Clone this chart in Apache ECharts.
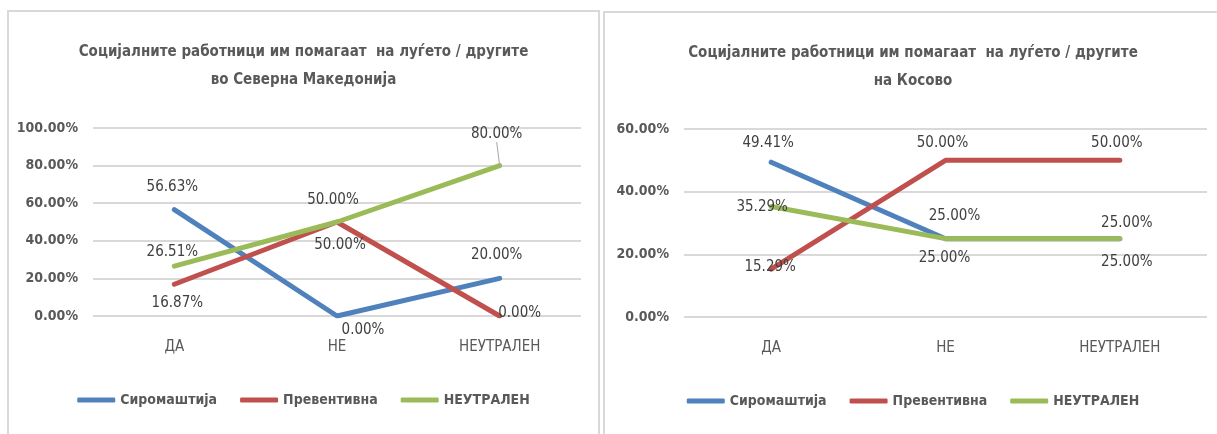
<!DOCTYPE html>
<html>
<head>
<meta charset="utf-8">
<script src="https://cdn.jsdelivr.net/npm/echarts@6/dist/echarts.min.js"></script>
<style>
	html, body { margin: 0; padding: 0; background: #fff; overflow: hidden; width: 1217px; height: 434px; }
	.panel { position: absolute; box-sizing: border-box; border: 2px solid #d9d9d9; background: #fff; }
	#mk { left: 7px; top: 10px; width: 593px; height: 440px; }
	#ks { left: 603px; top: 11px; width: 620px; height: 440px; }
</style>
</head>
<body>
<div class="panel" id="mk"></div>
<div class="panel" id="ks"></div>
<script>
// податоци
const categories = ['ДА', 'НЕ', 'НЕУТРАЛЕН'];
const seriesNames = ['Сиромаштија', 'Превентивна', 'НЕУТРАЛЕН'];

// Северна Македонија
const mkPoverty = [56.63, 0, 20];
const mkPreventive = [16.87, 50, 0];
const mkNeutral = [26.51, 50, 80];
const mkTicks = [0, 20, 40, 60, 80, 100];

// Косово
const ksPoverty = [49.41, 25, 25];
const ksPreventive = [15.29, 50, 50];
const ksNeutral = [35.29, 25, 25];
const ksTicks = [0, 20, 40, 60];

const colors = ['#4f81bd', '#c0504d', '#9bbb59'];
const font = "'Liberation Sans Narrow', 'DejaVu Sans Condensed', sans-serif";

// помествање на етикетите (центар на текстот во однос на точката)
const mkLabelShift = [
	[[-2, -22], [26, 14], [-3, -23]],
	[[3, 19], [3, 23], [20, -3]],
	[[-2, -14], [-4, -22], [-3, -31]]
];
const ksLabelShift = [
	[[-3, -19], [9, -23], [7, -16]],
	[[-1, -2], [-3, -17], [-3, -17]],
	[[-9, 1], [-1, 19], [7, 23]]
];

function makeChart(el, title, valuesList, ticks, shifts, grid, leader) {
	let myChart = echarts.init(document.getElementById(el));
	let series = valuesList.map(function (values, s) {
		return {
			name: seriesNames[s],
			type: 'line',
			symbol: 'circle',
			symbolSize: 0,
			showSymbol: true,
			lineStyle: { width: 5, color: colors[s], cap: 'round', join: 'round' },
			itemStyle: { color: colors[s] },
			emphasis: { disabled: true },
			data: values.map(function (v, i) {
				let item = { value: v, label: { offset: shifts[s][i] } };
				// тенка водилка до етикетата
				if (leader && leader[0] === s && leader[1] === i) {
					item.labelLine = { show: true, lineStyle: { color: '#a6a6a6', width: 1 } };
				}
				return item;
			}),
			label: {
				show: true,
				position: 'inside',
				color: '#404040',
				fontFamily: font,
				fontSize: 15,
				formatter: function (p) { return p.value.toFixed(2) + '%'; }
			}
		};
	});
	let option = {
		animation: false,
		color: colors,
		title: {
			text: title,
			left: 'center',
			top: 26,
			padding: 0,
			textStyle: {
				fontFamily: font,
				fontSize: 15,
				fontWeight: 'bold',
				color: '#595959',
				lineHeight: 28
			}
		},
		legend: {
			top: 381,
			left: 'center',
			padding: 0,
			icon: 'roundRect',
			itemWidth: 38,
			itemHeight: 5,
			itemGap: 23,
			textStyle: { fontFamily: font, fontSize: 14, fontWeight: 'bold', color: '#595959' },
			data: seriesNames
		},
		grid: Object.assign({ outerBoundsMode: 'none', containLabel: false }, grid),
		xAxis: {
			type: 'category',
			data: categories,
			axisLine: { show: false },
			axisTick: { show: false },
			axisLabel: { color: '#595959', fontFamily: font, fontSize: 15, margin: 24 }
		},
		yAxis: {
			type: 'value',
			min: ticks[0],
			max: ticks[ticks.length - 1],
			interval: ticks[1] - ticks[0],
			axisLine: { show: false },
			axisTick: { show: false },
			axisLabel: {
				color: '#595959', fontFamily: font, fontSize: 14, fontWeight: 'bold', margin: 15,
				formatter: function (v) { return v.toFixed(2) + '%'; }
			},
			splitLine: { lineStyle: { color: '#d9d9d9', width: 2 } }
		},
		series: series
	};
	myChart.setOption(option);
	return myChart;
}

makeChart('mk', 'Социјалните работници им помагаат  на луѓето / другите\nво Северна Македонија',
	[mkPoverty, mkPreventive, mkNeutral], mkTicks, mkLabelShift,
	{ left: 84, right: 17, top: 116, height: 188 }, [2, 2]);

makeChart('ks', 'Социјалните работници им помагаат  на луѓето / другите\nна Косово',
	[ksPoverty, ksPreventive, ksNeutral], ksTicks, ksLabelShift,
	{ left: 79, right: 14, top: 116, height: 188 }, null);
</script>
</body>
</html>
